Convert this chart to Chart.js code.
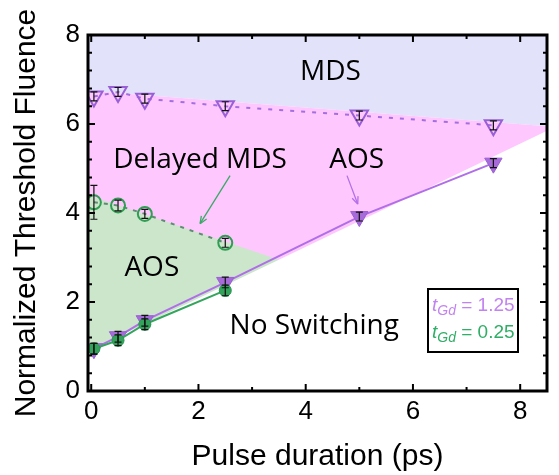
<!DOCTYPE html>
<html>
<head>
<meta charset="utf-8">
<script src="https://cdn.jsdelivr.net/npm/chart.js@4.4.1/dist/chart.umd.min.js"></script>
<style>
html, body { margin: 0; padding: 0; background: #fff; }
#wrap { width: 559px; height: 475px; }
</style>
</head>
<body>
<div id="wrap"><canvas id="chart" width="559" height="475"></canvas></div>
<script>
// pulse durations (ps)
var pulse125 = [0.05, 0.5, 1, 2.5, 5, 7.5];
var pulse025 = [0.05, 0.5, 1, 2.5];
// tGd = 1.25
var mds125 = [6.62, 6.72, 6.57, 6.40, 6.19, 5.97];
var mds125Err = [0.1, 0.1, 0.1, 0.1, 0.1, 0.1];
var aos125 = [0.95, 1.22, 1.58, 2.44, 3.92, 5.12];
var aos125Err = [0.12, 0.12, 0.12, 0.12, 0.1, 0.1];
// tGd = 0.25
var mds025 = [4.24, 4.17, 3.98, 3.33];
var mds025Err = [0.38, 0.12, 0.1, 0.1];
var aos025 = [0.95, 1.14, 1.5, 2.26];
var aos025Err = [0.12, 0.12, 0.12, 0.12];
// region borders
var mdsEdgeX = [-0.06, 8.5];
var mdsEdgeY = [6.75, 5.95];
var aosEdgeX = [-0.06, 3.5];
var aosEdgeY = [4.4, 2.95];
var noSwitchEdgeX = [-0.06, 3.5, 8.5];
var noSwitchEdgeY = [0.9, 2.95, 5.85];
// axes
var xTicks = [0, 2, 4, 6, 8];
var yTicks = [0, 2, 4, 6, 8];

function pts(xs, ys) { return xs.map(function(x, i){ return {x: x, y: ys[i]}; }); }

var labels = [
	{text: 'MDS', x: 4.46, y: 7.16},
	{text: 'Delayed MDS', x: 2.03, y: 5.18},
	{text: 'AOS', x: 4.95, y: 5.18},
	{text: 'AOS', x: 1.13, y: 2.77},
	{text: 'No Switching', x: 4.16, y: 1.46}
];
var arrows = [
	{from: [2.59, 4.84], to: [2.03, 3.76], color: '#3aa866'},
	{from: [4.77, 4.84], to: [4.97, 4.2], color: '#b46ee8'}
];

var errorBars = {
	id: 'errorBars',
	afterDatasetsDraw: function(chart){
		var ctx = chart.ctx, xs = chart.scales.x, ys = chart.scales.y;
		ctx.save();
		ctx.strokeStyle = '#111';
		ctx.lineWidth = 1.2;
		chart.data.datasets.forEach(function(ds){
			if (!ds.errY) return;
			ds.data.forEach(function(p, i){
				var px = xs.getPixelForValue(p.x);
				var y1 = ys.getPixelForValue(p.y + ds.errY[i]);
				var y2 = ys.getPixelForValue(p.y - ds.errY[i]);
				ctx.beginPath();
				ctx.moveTo(px, y1); ctx.lineTo(px, y2);
				ctx.moveTo(px - 3.5, y1); ctx.lineTo(px + 3.5, y1);
				ctx.moveTo(px - 3.5, y2); ctx.lineTo(px + 3.5, y2);
				ctx.stroke();
			});
		});
		ctx.restore();
	}
};

var decorations = {
	id: 'decorations',
	afterDraw: function(chart){
		var ctx = chart.ctx, xs = chart.scales.x, ys = chart.scales.y, a = chart.chartArea;
		ctx.save();
		// region labels
		ctx.fillStyle = '#000';
		ctx.font = '28px "Open Sans"';
		ctx.textAlign = 'center';
		ctx.textBaseline = 'middle';
		labels.forEach(function(l){
			ctx.fillText(l.text, xs.getPixelForValue(l.x), ys.getPixelForValue(l.y));
		});
		// arrows
		arrows.forEach(function(ar){
			var x1 = xs.getPixelForValue(ar.from[0]), y1 = ys.getPixelForValue(ar.from[1]);
			var x2 = xs.getPixelForValue(ar.to[0]), y2 = ys.getPixelForValue(ar.to[1]);
			var ang = Math.atan2(y2 - y1, x2 - x1);
			ctx.strokeStyle = ar.color; ctx.fillStyle = ar.color; ctx.lineWidth = 1.3;
			ctx.beginPath(); ctx.moveTo(x1, y1); ctx.lineTo(x2, y2); ctx.stroke();
			ctx.beginPath();
			ctx.moveTo(x2, y2);
			ctx.lineTo(x2 - 8 * Math.cos(ang - 0.4), y2 - 8 * Math.sin(ang - 0.4));
			ctx.moveTo(x2, y2);
			ctx.lineTo(x2 - 8 * Math.cos(ang + 0.4), y2 - 8 * Math.sin(ang + 0.4));
			ctx.stroke();
		});
		// frame with inward ticks
		ctx.strokeStyle = '#000';
		ctx.lineWidth = 3;
		ctx.strokeRect(a.left, a.top, a.right - a.left, a.bottom - a.top);
		ctx.lineWidth = 2;
		ctx.beginPath();
		for (var v = 0; v <= 8; v += 1) {
			var px = xs.getPixelForValue(v), len = (v % 2 === 0) ? 7 : 4;
			ctx.moveTo(px, a.bottom); ctx.lineTo(px, a.bottom - len);
			ctx.moveTo(px, a.top); ctx.lineTo(px, a.top + len);
		}
		for (var k = 0; k <= 20; k++) {
			var yv = k * 0.4, py = ys.getPixelForValue(yv), ylen = (k % 5 === 0) ? 7 : 4;
			ctx.moveTo(a.left, py); ctx.lineTo(a.left + ylen, py);
			ctx.moveTo(a.right, py); ctx.lineTo(a.right - ylen, py);
		}
		ctx.stroke();
		// legend box
		var bx = 428, by = 289, bw = 90, bh = 63;
		ctx.lineWidth = 2;
		ctx.strokeRect(bx, by, bw, bh);
		ctx.textAlign = 'left';
		ctx.textBaseline = 'alphabetic';
		[['1.25', '#c283f0', 311], ['0.25', '#2fae66', 338]].forEach(function(e){
			var x = bx + 4;
			ctx.fillStyle = e[1];
			ctx.font = 'italic 19px "Liberation Sans"';
			ctx.fillText('t', x, e[2]);
			x += ctx.measureText('t').width;
			ctx.font = 'italic 14px "Liberation Sans"';
			ctx.fillText('Gd', x, e[2] + 4);
			x += ctx.measureText('Gd').width;
			ctx.font = '19px "Liberation Sans"';
			ctx.fillText(' = ' + e[0], x, e[2]);
		});
		ctx.restore();
	}
};

var ctx = document.getElementById('chart');
new Chart(ctx, {
	type: 'scatter',
	data: {
		datasets: [
			{ label: 'MDS region', data: pts(mdsEdgeX, mdsEdgeY), showLine: true, borderWidth: 0, pointRadius: 0,
			  fill: 'end', backgroundColor: '#e2e2fa', order: 10 },
			{ label: 'switch region', data: pts(mdsEdgeX, mdsEdgeY), showLine: true, borderWidth: 0, pointRadius: 0,
			  fill: 'start', backgroundColor: '#fec8fe', order: 9 },
			{ label: 'AOS region', data: pts(aosEdgeX, aosEdgeY), showLine: true, borderWidth: 0, pointRadius: 0,
			  fill: 'start', backgroundColor: '#cbe6cb', order: 8 },
			{ label: 'no switching', data: pts(noSwitchEdgeX, noSwitchEdgeY), showLine: true, borderWidth: 0, pointRadius: 0,
			  fill: 'start', backgroundColor: '#ffffff', order: 7 },
			{ label: 'MDS 1.25', data: pts(pulse125, mds125), errY: mds125Err, showLine: true,
			  borderColor: '#a56ee0', borderWidth: 2, borderDash: [4, 7],
			  pointStyle: 'triangle', pointRotation: 180, pointRadius: 10, pointBorderWidth: 2,
			  pointBorderColor: '#9a5fd6', pointBackgroundColor: 'rgba(0,0,0,0)', order: 4 },
			{ label: 'AOS 1.25', data: pts(pulse125, aos125), errY: aos125Err, showLine: true,
			  borderColor: '#b06ee8', borderWidth: 2,
			  pointStyle: 'triangle', pointRotation: 180, pointRadius: 10, pointBorderWidth: 1,
			  pointBorderColor: '#9a5fd6', pointBackgroundColor: '#a66bd9', order: 3 },
			{ label: 'MDS 0.25', data: pts(pulse025, mds025), errY: mds025Err, showLine: true,
			  borderColor: '#5f8a74', borderWidth: 2, borderDash: [4, 6],
			  pointStyle: 'circle', pointRadius: 7, pointBorderWidth: 2,
			  pointBorderColor: '#2f9e52', pointBackgroundColor: 'rgba(0,0,0,0)', order: 2 },
			{ label: 'AOS 0.25', data: pts(pulse025, aos025), errY: aos025Err, showLine: true,
			  borderColor: '#35a55e', borderWidth: 2,
			  pointStyle: 'circle', pointRadius: 6, pointBorderWidth: 1,
			  pointBorderColor: '#2a9550', pointBackgroundColor: '#33a35c', order: 1 }
		]
	},
	options: {
		responsive: false,
		animation: false,
		layout: { padding: { top: 35, right: 4, left: 0, bottom: 0 } },
		plugins: { legend: { display: false }, tooltip: { enabled: false } },
		scales: {
			x: {
				type: 'linear', min: -0.06, max: 8.5,
				afterBuildTicks: function(s){ s.ticks = xTicks.map(function(v){ return {value: v}; }); },
				afterFit: function(s){ s.height = 84; },
				grid: { display: false, drawTicks: false },
				border: { display: false },
				ticks: { color: '#000', padding: 5, maxRotation: 0, font: { family: 'Liberation Sans', size: 26 } },
				title: { display: true, text: 'Pulse duration (ps)', color: '#000', padding: { top: 0, bottom: 0 },
				         font: { family: 'Liberation Sans', size: 30 } }
			},
			y: {
				type: 'linear', min: 0, max: 8,
				afterBuildTicks: function(s){ s.ticks = yTicks.map(function(v){ return {value: v}; }); },
				afterFit: function(s){ s.width = 88; },
				grid: { display: false, drawTicks: false },
				border: { display: false },
				ticks: { color: '#000', padding: 8, font: { family: 'Liberation Sans', size: 26 } },
				title: { display: true, text: 'Normalized Threshold Fluence', color: '#000', padding: { top: 9, bottom: 0 },
				         font: { family: 'Liberation Sans', size: 30 } }
			}
		}
	},
	plugins: [errorBars, decorations]
});
</script>
</body>
</html>
